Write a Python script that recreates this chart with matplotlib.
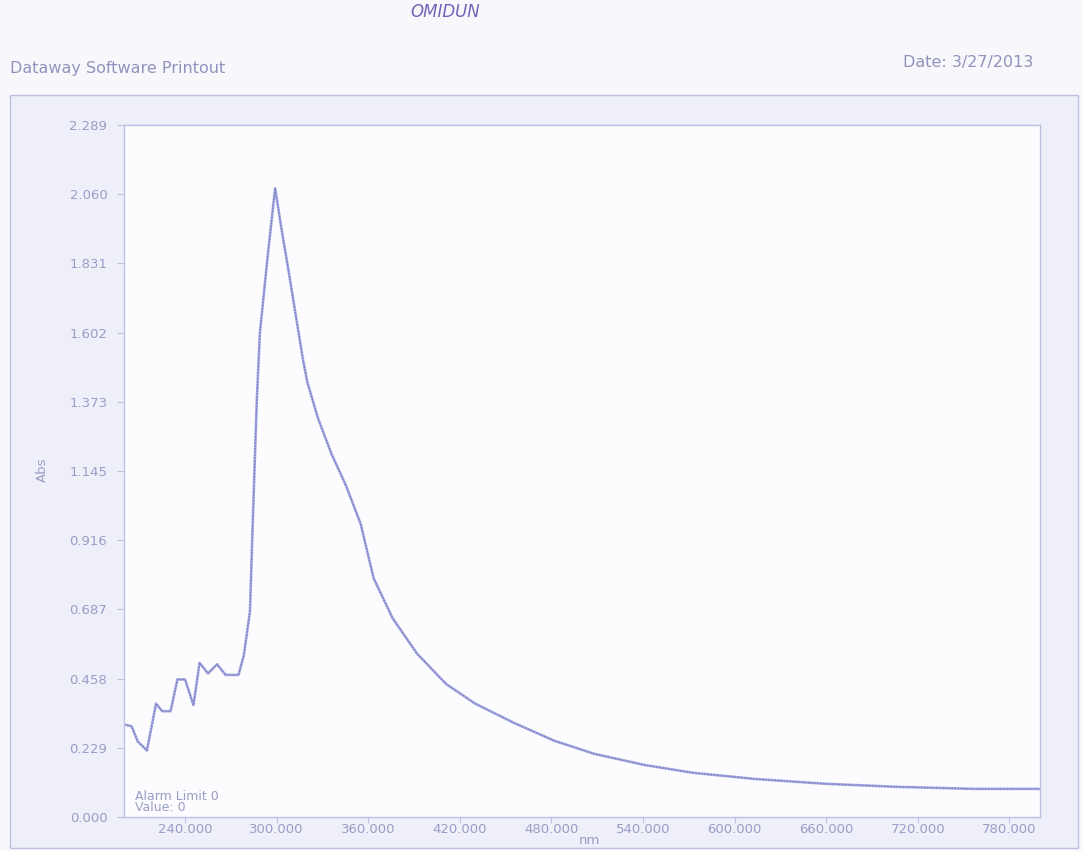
import numpy as np
import matplotlib
matplotlib.use('Agg')
import matplotlib.pyplot as plt
from matplotlib.patches import Rectangle

# UV-Vis scan
wavelength = [200, 201, 205, 209, 215, 221, 225, 230.5, 235, 240, 245.5,
              249.5, 255, 261, 266.5, 275, 278.5, 282.5, 284.5, 287, 289,
              294, 299, 303, 308, 317, 320, 327, 336, 345.5, 355, 363.5,
              376, 392, 411, 430, 456, 482, 508, 541, 573, 613, 659, 705,
              757, 800]
absorbance = [0.305, 0.305, 0.30, 0.25, 0.22, 0.375, 0.35, 0.35, 0.455,
              0.455, 0.37, 0.51, 0.475, 0.505, 0.47, 0.47, 0.535, 0.68,
              1.00, 1.38, 1.60, 1.85, 2.08, 1.95, 1.80, 1.52, 1.44, 1.32,
              1.20, 1.095, 0.97, 0.79, 0.657, 0.54, 0.44, 0.375, 0.31,
              0.252, 0.209, 0.172, 0.146, 0.126, 0.11, 0.10, 0.093, 0.093]

xticks = [240, 300, 360, 420, 480, 540, 600, 660, 720, 780]
ylabels = ['0.000', '0.229', '0.458', '0.687', '0.916', '1.145',
           '1.373', '1.602', '1.831', '2.060', '2.289']
ymax = 2.289

W, H = 1082, 851
txt = '#9a9ec6'
edge = '#bcc0e2'
line = '#7a7ec6'

def fx(px):
    return px / W

def fy(py):
    return 1 - py / H

plt.rcParams['font.family'] = ['DejaVu Sans']

fig = plt.figure(figsize=(W / 100, H / 100), dpi=100)
fig.patch.set_facecolor('#f8f8fc')

# outer panel of the printout
fig.patches.append(Rectangle((fx(10), fy(848)), fx(1068), 753 / H,
                             transform=fig.transFigure, facecolor='#eeeff9',
                             edgecolor=edge, lw=1.0, zorder=-5))

ax = fig.add_axes([fx(124), fy(817), fx(916), 692 / H])
ax.set_zorder(2)
ax.set_facecolor('#fcfcff')
ax.plot(wavelength, absorbance, color='#a9acdf', lw=1.9,
        solid_joinstyle='round')
ax.plot(wavelength, absorbance, color=line, lw=1.0, ls=(0, (1.2, 1.0)))

ax.set_xlim(200, 800)
ax.set_ylim(0, ymax)
ax.set_xticks(xticks)
ax.set_xticklabels(['%.3f' % v for v in xticks])
ax.set_yticks(np.linspace(0, ymax, len(ylabels)))
ax.set_yticklabels(ylabels)
ax.tick_params(axis='both', direction='out', length=5, width=0.8,
               color=edge, labelcolor=txt, labelsize=9.5)
ax.tick_params(axis='y', pad=7)
ax.tick_params(axis='x', length=4, pad=0.5)
for s in ax.spines.values():
    s.set_color(edge)
    s.set_linewidth(1.0)

ax.text(0.012, 0.004, 'Alarm Limit 0\nValue: 0', transform=ax.transAxes,
        color=txt, fontsize=9, ha='left', va='bottom', linespacing=0.85)

fig.text(fx(42), fy(470), 'Abs', rotation=90, color=txt, fontsize=9.5,
         ha='center', va='center')
fig.text(fx(589), fy(841), 'nm', color=txt, fontsize=9.5,
         ha='center', va='center')

# page header
fig.text(fx(10), fy(68), 'Dataway Software Printout', color='#8f93bb',
         fontsize=11.5, ha='left', va='center')
fig.text(fx(1033), fy(63), 'Date: 3/27/2013', color='#8f93bb',
         fontsize=11.5, ha='right', va='center')
fig.text(fx(445), fy(12), 'OMIDUN', color='#6f63b4', fontsize=12,
         style='italic', ha='center', va='center')

fig.savefig('out.png', dpi=100, facecolor=fig.get_facecolor())
